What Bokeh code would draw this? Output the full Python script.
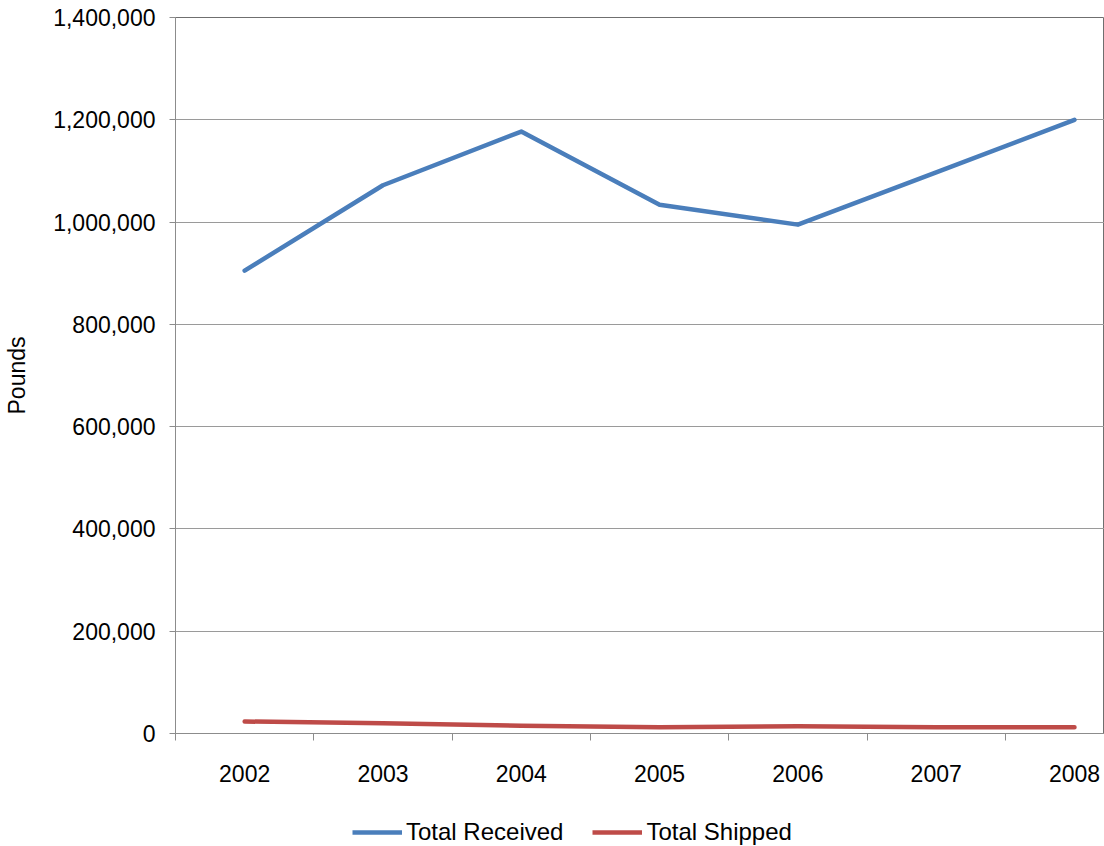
from bokeh.plotting import figure
from bokeh.layouts import column
from bokeh.models import (Range1d, FixedTicker, NumeralTickFormatter, Legend,
                          LegendItem, CustomJSTickFormatter)
from bokeh.embed import file_html
from bokeh.resources import INLINE

years = [2002, 2003, 2004, 2005, 2006, 2007, 2008]
total_received = [905000, 1072000, 1177000, 1034000, 995000, 1097000, 1200000]
total_shipped = [23500, 20000, 15000, 12000, 14000, 12000, 12000]
y_ticks = [0, 200000, 400000, 600000, 800000, 1000000, 1200000, 1400000]
series_names = ["Total Received", "Total Shipped"]

FONT = "Liberation Sans"
FS = "23px"
BLUE = "#4A7EBB"
RED = "#BE4B48"
GRID = "#9a9a9a"
AXIS = "#8c8c8c"

p = figure(
    frame_width=929, frame_height=716,
    min_border_left=175, min_border_right=0, min_border_top=17,
    min_border_bottom=67,
    x_range=Range1d(2001.5, 2008.217), y_range=Range1d(0, 1400000),
    output_backend="svg", toolbar_location=None,
    background_fill_color="white", border_fill_color="white",
)
p.outline_line_color = "#6f6f6f"
p.outline_line_width = 1

# Category axis: labels in the middle of each slot, tick marks on the slot edges
p.xaxis.ticker = FixedTicker(ticks=years,
                             minor_ticks=[y + 0.5 for y in [2001] + years])
p.xaxis.formatter = CustomJSTickFormatter(code="return String(tick)")
p.xaxis.major_tick_out = 0
p.xaxis.major_tick_in = 0
p.xaxis.minor_tick_out = 7
p.xaxis.minor_tick_in = 0
p.xaxis.minor_tick_line_color = AXIS
p.xaxis.axis_line_color = AXIS
p.xaxis.major_label_standoff = 24
p.xaxis.major_label_text_font = FONT
p.xaxis.major_label_text_font_size = FS
p.xaxis.major_label_text_color = "black"

p.yaxis.ticker = FixedTicker(ticks=y_ticks, minor_ticks=[])
p.yaxis.formatter = NumeralTickFormatter(format="0,0")
p.yaxis.major_tick_out = 6
p.yaxis.major_tick_in = 0
p.yaxis.major_tick_line_color = AXIS
p.yaxis.axis_line_color = AXIS
p.yaxis.major_label_standoff = 14
p.yaxis.major_label_text_font = FONT
p.yaxis.major_label_text_font_size = FS
p.yaxis.major_label_text_color = "black"
p.yaxis.axis_label = "Pounds"
p.yaxis.axis_label_text_font = FONT
p.yaxis.axis_label_text_font_size = FS
p.yaxis.axis_label_text_font_style = "normal"
p.yaxis.axis_label_text_color = "black"
p.yaxis.axis_label_standoff = 20

p.xgrid.grid_line_color = None
p.ygrid.grid_line_color = GRID
p.ygrid.grid_line_width = 1

p.line(years, total_received, line_color=BLUE, line_width=4.5,
       line_cap="round", line_join="round")
p.line(years, total_shipped, line_color=RED, line_width=4.5,
       line_cap="round", line_join="round")

# Legend strip under the chart; its series lie outside the strip's own ranges,
# so only the legend keys show
leg = figure(
    width=1104, height=46, min_border=0,
    x_range=Range1d(0, 1), y_range=Range1d(0, 1),
    output_backend="svg", toolbar_location=None,
    background_fill_color="white", border_fill_color="white",
)
leg.axis.visible = False
leg.grid.visible = False
leg.outline_line_color = None
k1 = leg.line(years, total_received, line_color=BLUE, line_width=4.5)
k2 = leg.line(years, total_shipped, line_color=RED, line_width=4.5)

legend = Legend(
    items=[LegendItem(label=series_names[0], renderers=[k1]),
           LegendItem(label=series_names[1], renderers=[k2])],
    orientation="horizontal", location=(177, 0),
    label_text_font=FONT, label_text_font_size="24px",
    label_text_color="black", glyph_width=50, glyph_height=20,
    label_standoff=4, spacing=29, padding=2, margin=0,
    border_line_color=None, background_fill_alpha=0,
)
leg.add_layout(legend, "center")

page = column(p, leg, spacing=0)
open("out.html", "w").write(file_html(page, INLINE))
